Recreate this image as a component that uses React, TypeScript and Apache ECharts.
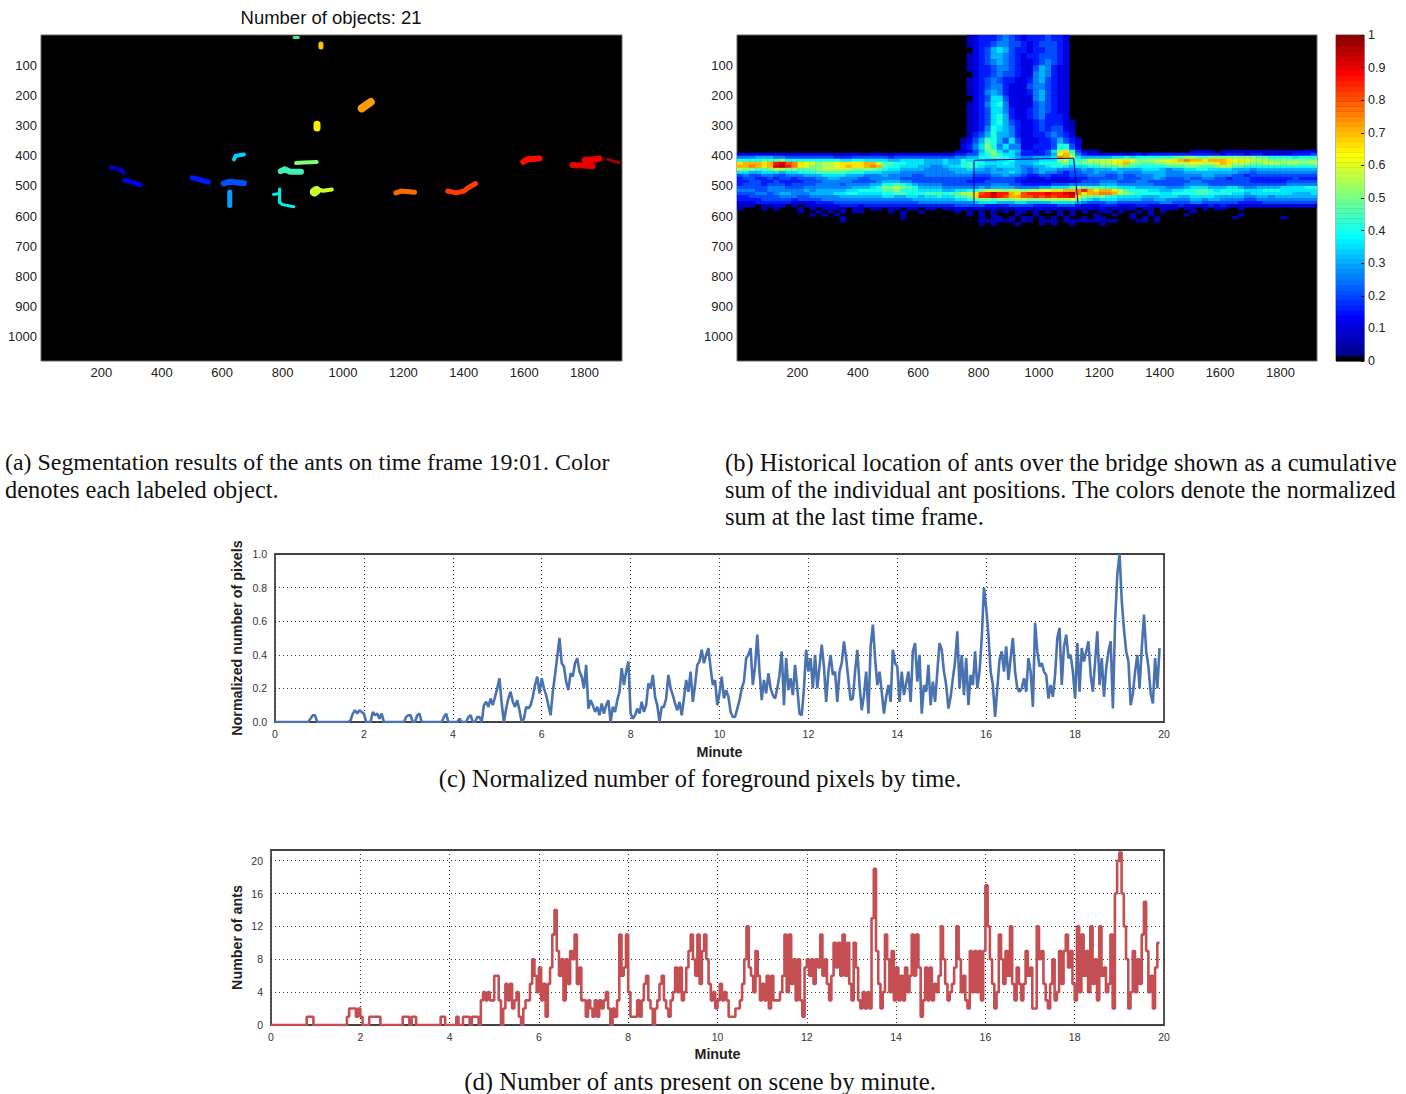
import React, { useEffect, useRef } from "react";
import * as echarts from "echarts";

// ---- Panel (a): segmented objects, one track per labelled object (pixel coordinates of the frame)
const objectTracks: number[][][] = [
  [[838, 8], [852, 8]],
  [[927, 30], [927, 40]],
  [[1062, 243], [1092, 222]],
  [[914, 296], [914, 308]],
  [[639, 412], [645, 400], [672, 396]],
  [[230, 438], [268, 448], [274, 458]],
  [[278, 481], [310, 490], [328, 497]],
  [[500, 473], [520, 478], [554, 487]],
  [[605, 492], [625, 486], [672, 491]],
  [[625, 520], [625, 565]],
  [[770, 528], [790, 525], [790, 510], [790, 555], [800, 562], [837, 569]],
  [[794, 451], [807, 445], [825, 453], [861, 453]],
  [[845, 424], [870, 422], [913, 421]],
  [[899, 517], [915, 512], [935, 516], [963, 512]],
  [[905, 520], [912, 515]],
  [[1175, 523], [1192, 517], [1237, 521]],
  [[1347, 517], [1375, 523], [1401, 517], [1415, 506], [1439, 492]],
  [[1597, 420], [1611, 412], [1651, 409]],
  [[1760, 431], [1827, 434], [1800, 414], [1850, 410], [1820, 416]],
  [[1877, 412], [1914, 423]],
];
const objectColors = [
  "#40f08a", "#ffc400", "#ff9c00", "#ffee00", "#00d0ff", "#0000c8", "#0000e0", "#0018ff", "#0050ff", "#00a0ff",
  "#00f0f0", "#40f0b0", "#80ff70", "#c8ff30", "#c8ff30", "#ff6a00", "#ff3a00", "#ff0c00", "#e80000", "#a80000",
];
const objectWidths = [3, 5, 8, 7, 4, 4, 5, 5, 6, 5, 3, 6, 4, 4, 9, 5, 5, 6, 6, 3];

// ---- Panel (b): cumulative position map. "." empty, a..s are 0.05..0.95.
// Stem rows: 20 frame pixels tall, "firstColumn cells"; band rows: 10 tall, one cell per 20 frame pixels.
const stemRows = [
  "38 abcccdedcbcccdccb",
  "38 abccdeeddcbcdddcb",
  "38 .bcdfgfdccbccddcb",
  "38 abcdffedcbccdddcb",
  "38 abcdefedcbbcdedcb",
  "38 abccdeedcbbdfecbb",
  "38 .bccdeddcbbefecbb",
  "38 abcdedccbbcefdcbb",
  "38 abcdeecbbbdeedcbb",
  "38 abcefecbbbcefdcbb",
  "38 .bcdggdbbbbefdcbb",
  "38 abceghebbbbdedcbb",
  "38 abcdggecbbcdedcbb",
  "38 abcdghfcbbcdecccb",
  "38 abcdghfdcbbcdcccba",
  "38 abcehgfecbbcdcddba",
  "38 acdfhffecbbccdedcb",
  "37 abdfihfdgdbbbccdfdcb",
  "37 bcegjhegeebbcccdhhdb",
];
const bandRows = [
  "........ ........ ........ ........ ....aabd fijgegfc cbcdgkmh dbaa.... ........ ...aaaa. aaaaaaaa aaaaaabb",
  "bbbbbbbb bbbbbbbb aabbaabb aabbbbbb bbbbccdd ghjhggec cccdflnj ecbbbbbb bbcbcccc cccccccc bcccbccb bbbbcccd",
  "eeefffee dddddddd cccddddd dcdddddd ddddeeff hhiihgfe efffgonl gfffffgg hghhhhhh iijjiijj jjjjjjii hhhhghhh",
  "hhhhiiij hhhhhhhh hgghhggg gffggggf ffgffhgh gffgghff ffgggjkh iikkkkll mljjkkll mnonnmnn nmlmlkkk jjjjjjjj",
  "mnnnmnqr pomlljkk lmmmmnnk iihhgggf ffgffhih hggghgff fghhhijh ijjjkklm njjiijjk kkkllkkm nmkkkjjk kkjkkjjk",
  "nnonmnrs qomljjkk lmnmmnon ihhgggff eefgghih gffgggfe effghhgf gghhiiij iihhhhhi iijjiiij kkiihhhh hhhhhhhh",
  "kjjiijkk jjiijjkk kkkjjjji hggffffe eeefffgf fefefffe defffeee efefffgf fffgggfe ffgghhgg ggfffeff ffffffff",
  "ggffgggf gghhhiii iihhhggg fffeeeee eeeefffe eefffgfe defeedcd deefeeef eeeffffe eeffffff fffeedee eeeeeeee",
  "deddeedd eeefffgg ggfffeee feeeedde eeeeeeed ddeefeed ccddcccd ddeeedde ddeeeffe eeeeeffe eeddcddd dddddddd",
  "cddccdcd dcdddeef feeeddee eeeddddd dddddddc ccddddcc bbbcbbbc ccddddde dddeefed ddeddeed dcdddccc ccccdccc",
  "ccddccdc cccdddee eeedddde fffeeddd ddddddcc cdddddcb bbbbbbbb cdddeeed ddeedddd dddeeddd dddddccc cccddddd",
  "cdddcddd cddddeee edeeeeff hhihgfee eedddddd ddeeeddc ccccddde eeeefffe eeeeeddd ddeeeedd dddddddd dddeeeee",
  "dddddeee dddeeeee eeefffgh jjkjihff ffeeeeee feffffee eeffgggi jiiiihhg ggfffffe eefgggff fggfeeff ffgggghh",
  "eeeddeee eeefefff ffgghhhh iijhhhgg ggffgghh jkkkjkkj kkllmmnn oqnmnnmk ihhhggff gghhiihg hhhhgggh hhgggggg",
  "dddeedef feeeffff gghhgggg hhiihhhi iihiikkm pqsqqnmp qqqrqqrs omnnoonk jihhhhgg hhhhiihh hhggfggg ggggfffg",
  "ccddddde eeddeeee efffffff ggffggfg ghggiijm qqrqpnnp pqpqpqqr mjjijhhg gggfffgg gffggggf ffffeeff efffffff",
  "ccccdddd dcddddee eeeeeeee eeeeefff ffffgghi jjijjjkk jjjkkkkl jhgfgggf fffeeffe eeeffeff eeeeddee eeeeeeee",
  "bbbccccc cbbbbccc dddddddd ddddddee eeeeeeef gggfffgg ffffgggg fedddeed ddddddee dddeeddd dddccccd dddddddd",
  "aba.aabb .a.abbbb bcccbccc cccccccc ccccdddd dccccddd dccccddd cbbbcccb bbccbbbb bcbbbbcb cbbbbbbb bbbbbbbb",
  "a...a.a. ..a.a.aa aa.aa.aa .aa.aa.a a.aabbab aabaaabb bababaab aababaaa aa.aa.aa a.aa.a.a a..a.... ........",
  "........ ..a..a.a .a.aa... .a.a..a. ....a.a. a.a.a.aa .a.a.a.a .a..aa.a ..a.a.a. ...a.... ........ ........",
  "........ ....a.a. a....... ...a.... ......a. a.a...a. .a...a.a ...a..a. .a..a... ..a..... ...a.... ........",
  "........ ........ .a...... ...a.... ........ a.aa.a.a a.a.a.a. .a.aa... .a.a.a.. ........ ..a..... ..a.....",
  "........ ........ .a...... ........ ........ aaaaaa.a a.aaa.aa aaaaaaa. ..aa.a.. ........ ........ ........",
  "........ ........ ........ ........ ........ a.a...a. ..a.a..a ....a... ........ ........ ........ ........",
];
const stemCellHeight = 20;
const bandTop = 380;
const bandCellHeight = 10;
const cellWidth = 20;
const levelStep = 0.05;
const bridgeOutline = [[785, 565], [785, 415], [1115, 408], [1130, 565]];
const colorLevels = 64;

// ---- Panels (c) and (d): one reading every 0.05 minute
const sampleStep = 0.05;
const normalizedPixels = [
  0, 0, 0, 0, 0, 0, 0, 0, 0, 0, 0, 0, 0, 0, 0, 0, .02, .04, .04, 0,
  0, 0, 0, 0, 0, 0, 0, 0, 0, 0, 0, 0, 0, 0, .01, .05, .07, .05, .07, .06,
  .05, 0, 0, 0, .06, .04, .05, .02, .05, 0, 0, 0, 0, 0, 0, 0, 0, 0, 0, .03,
  .04, .04, 0, 0, .04, .05, 0, 0, 0, 0, 0, 0, 0, 0, 0, 0, .03, .05, 0, 0,
  0, 0, 0, .02, 0, 0, 0, .03, .04, 0, 0, .03, .03, 0, .10, .12, .09, .14, .10, .15,
  .20, .26, .11, 0, .08, .14, .18, .12, .09, .13, .07, 0, .02, .09, .08, .10, .15, .22, .27, .17,
  .26, .20, .16, .10, .04, .18, .28, .39, .50, .35, .33, .24, .19, .29, .27, .35, .38, .30, .27, .20,
  .34, .08, .13, .10, .06, .09, .04, .11, .05, .10, .13, 0, .09, .06, .13, .18, .32, .22, .30, .36,
  .05, .02, .04, .08, .05, .12, .06, .10, .23, .20, .28, .15, .10, 0, .09, .09, .14, .28, .20, .16,
  .11, .07, .12, .04, .14, .25, .18, .30, .12, .22, .34, .36, .43, .35, .40, .44, .32, .22, .25, .10,
  .17, .27, .14, .19, .15, .06, .03, .03, .08, .13, .20, .24, .38, .40, .44, .22, .33, .52, .30, .13,
  .25, .17, .29, .20, .16, .14, .20, .28, .42, .10, .38, .19, .26, .16, .34, .20, .05, .04, .20, .43,
  .30, .38, .20, .40, .20, .33, .46, .33, .12, .30, .40, .28, .30, .12, .30, .35, .48, .38, .25, .13,
  .14, .30, .43, .22, .07, .16, .30, .05, .45, .58, .38, .22, .30, .18, .05, .15, .22, .12, .43, .35,
  .33, .12, .30, .16, .23, .30, .12, .42, .47, .24, .40, .05, .22, .18, .34, .10, .24, .12, .30, .47,
  .43, .30, .22, .08, .15, .26, .36, .54, .20, .40, .16, .38, .10, .28, .22, .42, .20, .30, .50, .80,
  .68, .52, .30, .22, .03, .20, .37, .42, .30, .45, .25, .38, .50, .30, .20, .18, .20, .26, .18, .38,
  .30, .09, .59, .42, .33, .35, .30, .28, .14, .22, .15, .28, .50, .56, .22, .45, .52, .38, .40, .30,
  .14, .47, .18, .44, .36, .42, .48, .28, .18, .36, .54, .22, .38, .15, .32, .42, .48, .08, .60, .88,
  1.0, .72, .55, .42, .36, .10, .17, .30, .40, .20, .44, .64, .42, .33, .17, .11, .38, .20, .44,
];
const antCounts = [
  0, 0, 0, 0, 0, 0, 0, 0, 0, 0, 0, 0, 0, 0, 0, 0, 1, 1, 1, 0,
  0, 0, 0, 0, 0, 0, 0, 0, 0, 0, 0, 0, 0, 0, 1, 2, 2, 2, 1, 2,
  1, 0, 0, 0, 1, 1, 1, 1, 1, 0, 0, 0, 0, 0, 0, 0, 0, 0, 0, 1,
  1, 1, 0, 1, 1, 0, 0, 0, 0, 0, 0, 0, 0, 0, 0, 0, 1, 1, 0, 0,
  0, 0, 0, 1, 0, 0, 1, 1, 1, 0, 1, 1, 1, 0, 3, 4, 3, 4, 3, 3,
  6, 6, 3, 0, 2, 5, 3, 5, 2, 3, 4, 1, 0, 2, 3, 3, 5, 8, 6, 4,
  7, 3, 5, 1, 5, 7, 11, 14, 9, 6, 8, 3, 8, 5, 9, 8, 11, 5, 7, 3,
  3, 1, 3, 2, 1, 3, 1, 3, 2, 3, 4, 2, 0, 2, 1, 3, 11, 6, 7, 11,
  4, 1, 1, 1, 3, 1, 3, 5, 6, 3, 2, 0, 2, 3, 5, 6, 3, 2, 1, 3,
  4, 7, 4, 7, 3, 4, 7, 9, 11, 8, 6, 11, 5, 9, 11, 8, 5, 3, 4, 2,
  3, 5, 3, 4, 3, 1, 1, 1, 2, 2, 3, 5, 8, 12, 7, 6, 4, 9, 6, 3,
  5, 3, 6, 2, 6, 3, 3, 3, 4, 6, 11, 4, 11, 5, 8, 3, 8, 3, 1, 7,
  8, 6, 8, 5, 8, 7, 11, 6, 8, 5, 3, 6, 10, 7, 10, 6, 11, 6, 10, 5,
  3, 10, 7, 3, 2, 4, 2, 4, 2, 13, 19, 9, 5, 2, 4, 11, 8, 4, 9, 3,
  7, 3, 6, 3, 7, 4, 6, 11, 6, 11, 7, 1, 3, 7, 3, 7, 3, 5, 4, 6,
  12, 8, 5, 3, 4, 5, 7, 12, 8, 4, 6, 3, 2, 9, 4, 9, 4, 9, 3, 9,
  17, 12, 8, 5, 2, 4, 11, 8, 5, 9, 6, 12, 5, 3, 7, 5, 3, 5, 9, 6,
  7, 2, 2, 12, 8, 9, 5, 3, 2, 5, 8, 3, 4, 9, 5, 9, 11, 7, 9, 5,
  3, 12, 4, 11, 6, 9, 4, 12, 5, 8, 3, 12, 6, 7, 4, 5, 11, 2, 16, 20,
  21, 16, 12, 8, 2, 4, 9, 4, 8, 5, 11, 15, 9, 4, 6, 2, 7, 10, 10,
];

const captionsLeft = [
  "(a) Segmentation results of the ants on time frame 19:01. Color",
  "denotes each labeled object.",
];
const captionsRight = [
  "(b) Historical location of ants over the bridge shown as a cumulative",
  "sum of the individual ant positions. The colors denote the normalized",
  "sum at the last time frame.",
];
const captionC = "(c) Normalized number of foreground pixels by time.";
const captionD = "(d) Number of ants present on scene by minute.";

// MATLAB jet colour map
function jet(t: number): string {
  const clip = (v: number) => Math.round(Math.max(0, Math.min(1, v)) * 255);
  return `rgb(${clip(1.5 - Math.abs(4 * t - 3))},${clip(1.5 - Math.abs(4 * t - 2))},${clip(1.5 - Math.abs(4 * t - 1))})`;
}
const cellValue = (ch: string) => (ch.charCodeAt(0) - 96) * levelStep;

const heatCells: number[][] = [];
stemRows.forEach((row, r) => {
  const [start, cells] = row.split(" ");
  cells.split("").forEach((ch, c) => {
    if (ch !== ".") heatCells.push([(Number(start) + c) * cellWidth, r * stemCellHeight, cellWidth, stemCellHeight, cellValue(ch)]);
  });
});
bandRows.forEach((row, r) => {
  row.replace(/ /g, "").split("").forEach((ch, c) => {
    if (ch !== ".") heatCells.push([c * cellWidth, bandTop + r * bandCellHeight, cellWidth, bandCellHeight, cellValue(ch)]);
  });
});
const colorCells = Array.from({ length: colorLevels }, (_, i) => [0, (i + 1) / colorLevels, 1, 1 / colorLevels, i === 0 ? -1 : i / colorLevels]);

function rectItem(_params: any, api: any) {
  const p = api.coord([api.value(0), api.value(1)]);
  const s = api.size([api.value(2), api.value(3)]);
  const v = api.value(4);
  return {
    type: "rect",
    shape: { x: p[0], y: p[1], width: s[0] + 0.4, height: s[1] + 0.4 },
    style: { fill: v < 0 ? "#000" : jet(v) },
  };
}

const sans = "'Liberation Sans', Arial, sans-serif";
const serif = "'Liberation Serif', 'Times New Roman', serif";

const imgAxisLabel = { fontFamily: sans, fontSize: 13, color: "#222", margin: 4 };
const plotLabel = { fontFamily: sans, fontSize: 10.5, color: "#333", margin: 8 };
const dotted = { show: true, lineStyle: { type: [1, 3] as any, color: "#333", width: 1.1 } };
const nameStyle = { fontFamily: sans, fontSize: 14.3, fontWeight: "bold" as const, color: "#222" };

function imgXAxis(gridIndex: number, max: number) {
  return {
    type: "value" as const, gridIndex, min: 0, max, interval: 200, position: "bottom" as const,
    axisLine: { show: false }, axisTick: { show: false }, splitLine: { show: false },
    axisLabel: { ...imgAxisLabel, margin: 5, showMinLabel: false, showMaxLabel: false, formatter: (v: number) => String(v) },
  };
}
function imgYAxis(gridIndex: number) {
  return {
    type: "value" as const, gridIndex, min: 0, max: 1080, interval: 100, inverse: true,
    axisLine: { show: false }, axisTick: { show: false }, splitLine: { show: false },
    axisLabel: { ...imgAxisLabel, showMinLabel: false, showMaxLabel: false, formatter: (v: number) => String(v) },
  };
}
function plotXAxis(gridIndex: number, nameGap: number) {
  return {
    type: "value" as const, gridIndex, min: 0, max: 20, interval: 2, name: "Minute", nameLocation: "middle" as const,
    nameGap, nameMoveOverlap: false, nameTextStyle: nameStyle,
    axisLine: { show: false }, axisTick: { show: false }, splitLine: dotted, axisLabel: { ...plotLabel, margin: 6 },
  };
}

function lineText(text: string, x: number, y: number, fontSize: number, align: string = "left") {
  return {
    type: "text" as const, x, y,
    style: { text, fontFamily: serif, fontSize, fill: "#111", textAlign: align, textVerticalAlign: "middle" },
  };
}

export default function App() {
  const ref = useRef<HTMLDivElement>(null);
  useEffect(() => {
    const chart = echarts.init(ref.current!, undefined, { renderer: "svg" });
    const blackGrid = { show: true, backgroundColor: "#000", borderColor: "#666", borderWidth: 1 };
    const plotGrid = { show: true, backgroundColor: "#fff", borderColor: "#444", borderWidth: 1.8 };
    chart.setOption({
      animation: false,
      backgroundColor: "#fff",
      title: {
        text: "Number of objects: 21", left: 326, top: 3, textAlign: "center",
        textStyle: { fontFamily: sans, fontSize: 18.5, fontWeight: "normal", color: "#111" },
      },
      grid: [
        { ...blackGrid, left: 41, top: 35, width: 581, height: 326 },
        { ...blackGrid, left: 737, top: 35, width: 580, height: 326 },
        { ...blackGrid, left: 1336, top: 35, width: 28, height: 326 },
        { ...plotGrid, left: 275, top: 554, width: 889, height: 168 },
        { ...plotGrid, left: 271, top: 850, width: 893, height: 175 },
      ],
      xAxis: [
        imgXAxis(0, 1924),
        imgXAxis(1, 1921),
        { type: "value", gridIndex: 2, min: 0, max: 1, show: false },
        plotXAxis(3, 23),
        plotXAxis(4, 22),
      ],
      yAxis: [
        imgYAxis(0),
        imgYAxis(1),
        {
          type: "value", gridIndex: 2, min: 0, max: 1, interval: 0.1, position: "right", z: 10,
          axisLine: { show: false, onZero: false }, splitLine: { show: false },
          axisTick: { show: true, inside: true, length: 3, lineStyle: { color: "#111" } },
          axisLabel: { ...imgAxisLabel, fontSize: 12.5, formatter: (v: number) => String(+v.toFixed(1)) },
        },
        {
          type: "value", gridIndex: 3, min: 0, max: 1, interval: 0.2,
          name: "Normalized number of pixels", nameLocation: "middle", nameGap: 31, nameMoveOverlap: false, nameTextStyle: nameStyle,
          axisLine: { show: false }, axisTick: { show: false }, splitLine: dotted,
          axisLabel: { ...plotLabel, formatter: (v: number) => v.toFixed(1) },
        },
        {
          type: "value", gridIndex: 4, min: 0, max: 21.3, interval: 4,
          name: "Number of ants", nameLocation: "middle", nameGap: 27, nameMoveOverlap: false, nameTextStyle: nameStyle,
          axisLine: { show: false }, axisTick: { show: false }, splitLine: dotted,
          axisLabel: { ...plotLabel, showMaxLabel: false },
        },
      ],
      series: [
        ...objectTracks.map((track, i) => ({
          type: "line", xAxisIndex: 0, yAxisIndex: 0, data: track, symbol: "none",
          lineStyle: { color: objectColors[i], width: objectWidths[i], cap: "round", join: "round" },
        })),
        {
          type: "custom", xAxisIndex: 1, yAxisIndex: 1, data: heatCells, encode: { x: 0, y: 1 },
          renderItem: rectItem, clip: true,
        },
        {
          type: "line", xAxisIndex: 1, yAxisIndex: 1, data: bridgeOutline, symbol: "none",
          lineStyle: { color: "#0000a8", width: 1 },
        },
        {
          type: "custom", xAxisIndex: 2, yAxisIndex: 2, data: colorCells, encode: { x: 0, y: 1 },
          renderItem: rectItem,
        },
        {
          type: "line", xAxisIndex: 3, yAxisIndex: 3, symbol: "none",
          data: normalizedPixels.map((v, i) => [i * sampleStep, v]),
          lineStyle: { color: "#4a72b0", width: 2.6 },
        },
        {
          type: "line", xAxisIndex: 4, yAxisIndex: 4, symbol: "none", step: "end",
          data: antCounts.map((v, i) => [i * sampleStep, v]),
          lineStyle: { color: "#c44e52", width: 2.6 },
        },
      ],
      graphic: [
        lineText(captionsLeft[0], 5, 462, 23.9),
        lineText(captionsLeft[1], 5, 489, 24.4),
        lineText(captionsRight[0], 725, 462, 24.5),
        lineText(captionsRight[1], 725, 489, 24.2),
        lineText(captionsRight[2], 725, 516, 24.4),
        lineText(captionC, 700, 778, 24.5, "center"),
        lineText(captionD, 700, 1081, 24.8, "center"),
      ],
    });
    return () => chart.dispose();
  }, []);
  return <div ref={ref} style={{ position: "absolute", left: 0, top: 0, width: 1406, height: 1094 }} />;
}
